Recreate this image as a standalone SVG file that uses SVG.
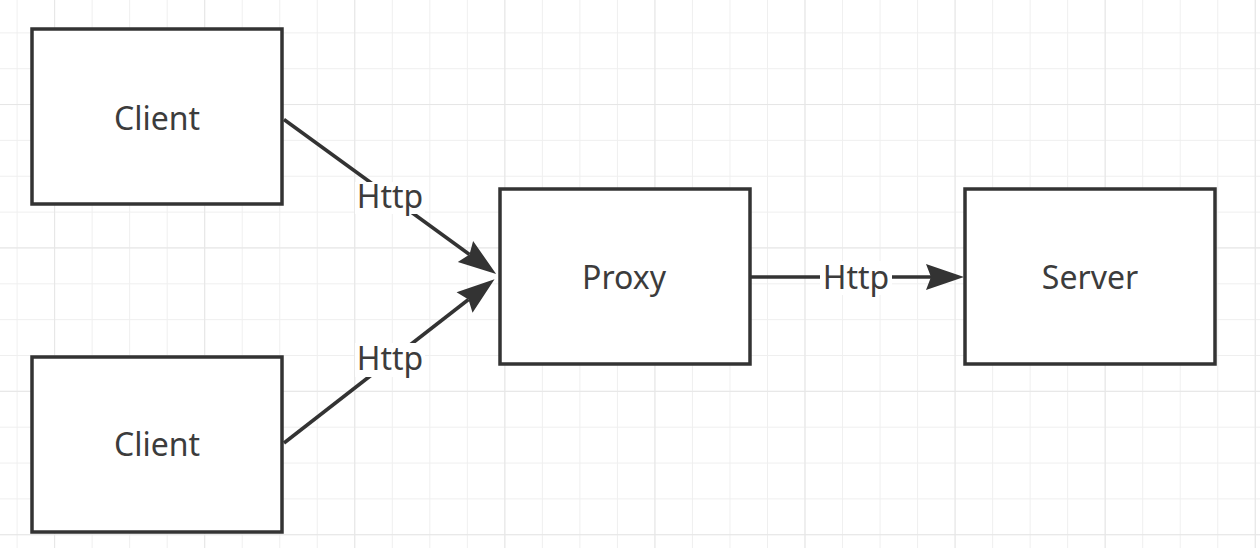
<svg xmlns="http://www.w3.org/2000/svg" width="1260" height="548" viewBox="0 0 1260 548">
  <defs>
    <pattern id="grid" x="16.6" y="-3.5" width="37.52" height="35.85" patternUnits="userSpaceOnUse">
      <line x1="0" y1="0" x2="0" y2="35.85" stroke="#efefef" stroke-width="2"/>
      <line x1="0" y1="0" x2="37.52" y2="0" stroke="#efefef" stroke-width="2"/>
    </pattern>
    <pattern id="gridMajor" x="54.1" y="104" width="150.08" height="143.4" patternUnits="userSpaceOnUse">
      <line x1="0" y1="0" x2="0" y2="143.4" stroke="#e6e6e6" stroke-width="2"/>
      <line x1="0" y1="0" x2="150.08" y2="0" stroke="#e6e6e6" stroke-width="2"/>
    </pattern>
    <marker id="arrow" markerUnits="userSpaceOnUse" viewBox="-42 -16 47 32" markerWidth="47" markerHeight="32" refX="-33" refY="0" orient="auto">
      <path d="M0,0 L-38,-13 L-33,0 L-38,13 Z" fill="#333"/>
    </marker>
    <style>
      .box { fill: #fff; stroke: #333; stroke-width: 3.5; }
      .label { font-family: "Noto Sans", "Open Sans", sans-serif; font-size: 32px; fill: #3c3c3c; text-anchor: middle; }
      .edge { fill: none; stroke: #333; stroke-width: 3.5; }
      .lblbg { fill: #fff; }
    </style>
  </defs>
  <rect x="0" y="0" width="1260" height="548" fill="#fff"/>
  <rect x="0" y="0" width="1260" height="548" fill="url(#grid)"/>
  <rect x="0" y="0" width="1260" height="548" fill="url(#gridMajor)"/>

  <g id="connectors">
    <path class="edge" d="M284,119.5 L469.5,254.5" marker-end="url(#arrow)"/>
    <path class="edge" d="M284,443 L468.5,299.5" marker-end="url(#arrow)"/>
    <path class="edge" d="M751,277 L931,277" marker-end="url(#arrow)"/>
    <g id="edge-labels">
      <rect class="lblbg" x="355" y="182" width="70" height="32"/>
      <text class="label" x="390" y="208">Http</text>
      <rect class="lblbg" x="355" y="343" width="70" height="34"/>
      <text class="label" x="390" y="370">Http</text>
      <rect class="lblbg" x="820" y="261" width="72" height="34"/>
      <text class="label" x="856" y="289">Http</text>
    </g>
  </g>

  <g id="client1">
    <rect class="box" x="32" y="29" width="250" height="175"/>
    <text class="label" x="157" y="130">Client</text>
  </g>
  <g id="client2">
    <rect class="box" x="32" y="357" width="250" height="175"/>
    <text class="label" x="157" y="456">Client</text>
  </g>
  <g id="proxy">
    <rect class="box" x="500" y="189" width="250" height="175"/>
    <text class="label" x="624" y="289">Proxy</text>
  </g>
  <g id="server">
    <rect class="box" x="965" y="189" width="250" height="175"/>
    <text class="label" x="1090" y="289">Server</text>
  </g>
</svg>
